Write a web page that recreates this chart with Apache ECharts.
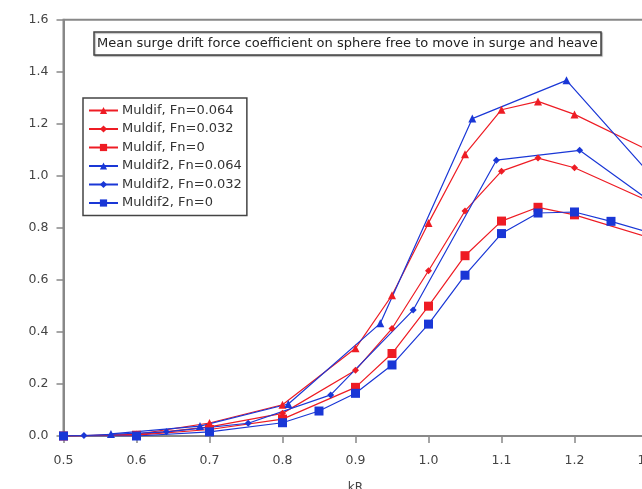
<!DOCTYPE html>
<html>
<head>
<meta charset="UTF-8">
<title>Mean surge drift force</title>
<script src="https://cdn.jsdelivr.net/npm/echarts@6/dist/echarts.min.js"></script>
<style>
    html, body { margin: 0; padding: 0; background: #fff; }
    #chart { width: 642px; height: 489px; }
</style>
</head>
<body>
<div id="chart"></div>
<script>
    // kR sample points
    var krMuldif = [0.5, 0.6, 0.7, 0.8, 0.9, 0.95, 1.0, 1.05, 1.1, 1.15, 1.2, 1.3];
    var krM2Fn064 = [0.565, 0.687, 0.808, 0.934, 1.06, 1.189, 1.315];
    var krM2Fn032 = [0.5, 0.528, 0.641, 0.753, 0.866, 0.979, 1.093, 1.207, 1.32];
    var krM2Fn0 = [0.5, 0.6, 0.7, 0.8, 0.85, 0.9, 0.95, 1.0, 1.05, 1.1, 1.15, 1.2, 1.25, 1.3];

    // coefficients
    var muldifFn064 = [0, 0.006, 0.05, 0.12, 0.337, 0.541, 0.819, 1.083, 1.254, 1.286, 1.236, 1.10];
    var muldifFn032 = [0, 0.004, 0.035, 0.087, 0.253, 0.413, 0.635, 0.865, 1.018, 1.068, 1.031, 0.905];
    var muldifFn0 = [0, 0.003, 0.025, 0.065, 0.187, 0.317, 0.499, 0.693, 0.826, 0.879, 0.85, 0.765];
    var muldif2Fn064 = [0.008, 0.038, 0.123, 0.433, 1.22, 1.367, 0.97];
    var muldif2Fn032 = [0, 0.002, 0.016, 0.049, 0.158, 0.484, 1.06, 1.098, 0.87];
    var muldif2Fn0 = [0, 0, 0.016, 0.051, 0.096, 0.164, 0.273, 0.43, 0.618, 0.778, 0.857, 0.861, 0.825, 0.784];

    var xTicks = [0.5, 0.6, 0.7, 0.8, 0.9, 1.0, 1.1, 1.2, 1.3];
    var yTicks = [0, 0.2, 0.4, 0.6, 0.8, 1.0, 1.2, 1.4, 1.6];

    function pairs(xs, ys) {
        return xs.map(function (x, i) { return [x, ys[i]]; });
    }

    var RED = '#ee1c24', BLUE = '#1a37d6';
    function mk(name, xs, ys, color, symbol, size) {
        return {
            name: name,
            type: 'line',
            data: pairs(xs, ys),
            symbol: symbol,
            symbolSize: size,
            lineStyle: { color: color, width: 1.2 },
            itemStyle: { color: color },
            animation: false
        };
    }

    var FONT = 'DejaVu Sans, Verdana, sans-serif';
    var chart = echarts.init(document.getElementById('chart'));
    chart.setOption({
        backgroundColor: '#fff',
        textStyle: { fontFamily: FONT },
        title: {
            text: 'Mean surge drift force coefficient on sphere free to move in surge and heave',
            left: 94, top: 32,
            padding: [5, 3, 5, 3],
            borderColor: '#444', borderWidth: 1.5,
            shadowColor: 'rgba(0,0,0,0.3)', shadowOffsetX: 1, shadowOffsetY: 1, shadowBlur: 1,
            backgroundColor: '#fff',
            textStyle: { fontFamily: FONT, fontSize: 13, fontWeight: 'normal', color: '#222' }
        },
        legend: {
            orient: 'vertical',
            left: 83, top: 98,
            padding: [6, 5, 6, 5],
            itemGap: 5.5,
            itemWidth: 29, itemHeight: 9,
            borderColor: '#444', borderWidth: 1.5,
            backgroundColor: '#fff',
            textStyle: { fontFamily: FONT, fontSize: 13, color: '#333', padding: [0, 0, 0, -1] },
            data: ['Muldif, Fn=0.064', 'Muldif, Fn=0.032', 'Muldif, Fn=0',
                   'Muldif2, Fn=0.064', 'Muldif2, Fn=0.032', 'Muldif2, Fn=0']
        },
        grid: {
            left: 63.5, top: 19.7, right: -5.5, bottom: 53,
            outerBoundsMode: 'none',
            show: true, borderColor: '#888', borderWidth: 2
        },
        xAxis: {
            type: 'value',
            min: xTicks[0], max: xTicks[xTicks.length - 1], interval: 0.1,
            name: 'kR', nameLocation: 'middle', nameGap: 46,
            nameTextStyle: { fontFamily: FONT, fontSize: 12, color: '#444' },
            axisLine: { lineStyle: { color: '#888', width: 2 } },
            axisTick: { length: 7, lineStyle: { color: '#888', width: 1.5 } },
            axisLabel: { fontSize: 12.5, color: '#444', margin: 18,
                formatter: function (v) { return v.toFixed(1); } },
            splitLine: { show: false }
        },
        yAxis: {
            type: 'value',
            min: yTicks[0], max: yTicks[yTicks.length - 1], interval: 0.2,
            axisLine: { show: true, lineStyle: { color: '#888', width: 2 } },
            axisTick: { show: true, length: 7, lineStyle: { color: '#888', width: 1.5 } },
            axisLabel: { fontSize: 12.5, color: '#444', margin: 15,
                formatter: function (v) { return v.toFixed(1); } },
            splitLine: { show: false }
        },
        series: [
            mk('Muldif, Fn=0.064', krMuldif, muldifFn064, RED, 'triangle', 8),
            mk('Muldif, Fn=0.032', krMuldif, muldifFn032, RED, 'diamond', 7),
            mk('Muldif, Fn=0', krMuldif, muldifFn0, RED, 'rect', 9),
            mk('Muldif2, Fn=0.064', krM2Fn064, muldif2Fn064, BLUE, 'triangle', 8),
            mk('Muldif2, Fn=0.032', krM2Fn032, muldif2Fn032, BLUE, 'diamond', 7),
            mk('Muldif2, Fn=0', krM2Fn0, muldif2Fn0, BLUE, 'rect', 9)
        ]
    });
</script>
</body>
</html>
